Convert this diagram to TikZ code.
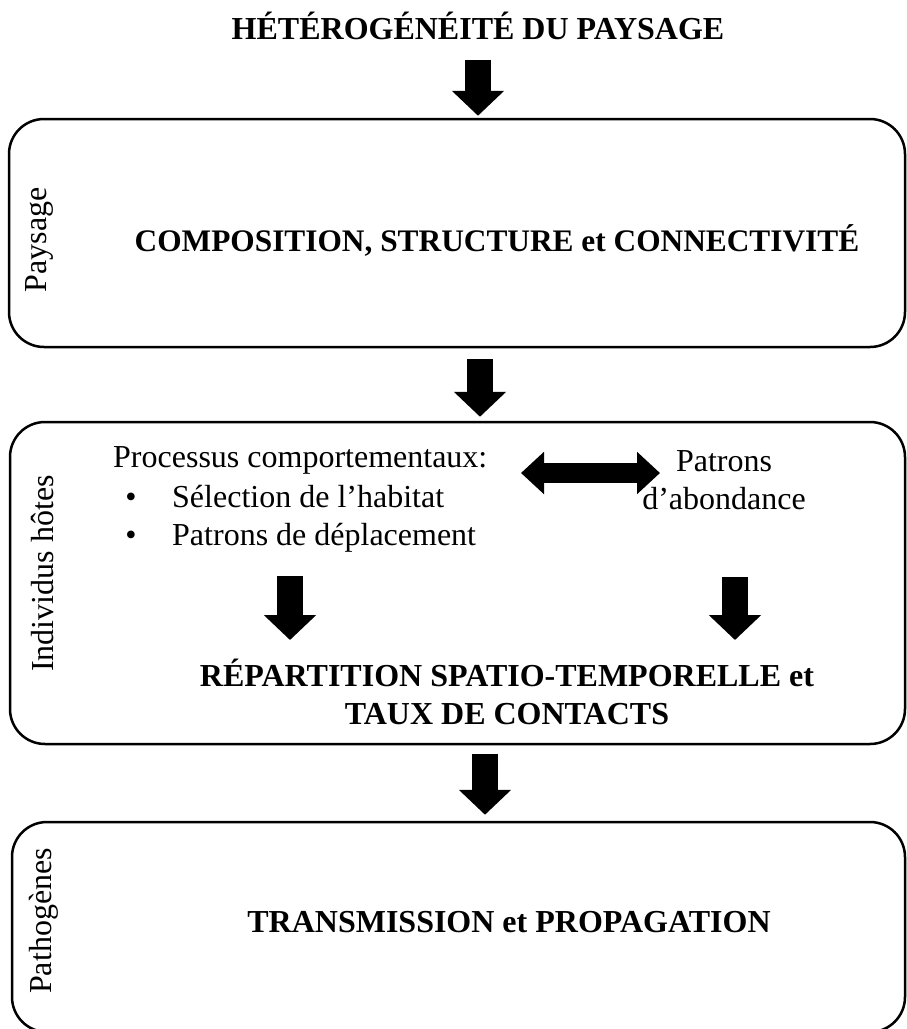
\documentclass[tikz,border=0pt]{standalone}
\usepackage{fontspec}
\setmainfont{Liberation Serif}
\usetikzlibrary{arrows.meta}

\begin{document}
\begin{tikzpicture}[x=1pt,y=-1pt,
  every node/.style={inner sep=0pt, font=\fontsize{32}{38}\selectfont},
  bold/.style={font=\fontsize{32}{38}\selectfont\bfseries},
  bloc/.style={draw, line width=2.5pt, rounded corners=35pt},
  bigarrow/.style={line width=26pt, -{Triangle[width=51pt,length=25pt]}},
  dblarrow/.style={line width=20pt, {Triangle[width=41pt,length=23pt]}-{Triangle[width=41pt,length=23pt]}}]
\useasboundingbox (0,0) rectangle (906,1029);
% blocs
\node [bloc, minimum width=896pt, minimum height=228pt] (paysage) at (457,233) {};
\node [bloc, minimum width=895pt, minimum height=322pt] (hotes) at (457.5,583) {};
\node [bloc, minimum width=893pt, minimum height=210pt] (patho) at (458.5,927) {};
% titres lateraux
\node [rotate=90] (lpaysage) at (39.5,240) {Paysage};
\node [rotate=90] (lhotes) at (43,573.5) {Individus hôtes};
\node [rotate=90] (lpatho) at (44,921) {Pathogènes};
% textes
\node [bold, anchor=base] (titre) at (478,39) {HÉTÉROGÉNÉITÉ DU PAYSAGE};
\node [font=\fontsize{31.35}{38}\selectfont\bfseries, anchor=base] (compo) at (497,251) {COMPOSITION, STRUCTURE et CONNECTIVITÉ};
\node [anchor=base west] (proc) at (113,467) {Processus comportementaux:};
\node [anchor=base] (puce1) at (131,507) {•};
\node [anchor=base west] (selec) at (172,507) {Sélection de l’habitat};
\node [anchor=base] (puce2) at (131,545) {•};
\node [anchor=base west] (depl) at (172,545) {Patrons de déplacement};
\node [align=center] (abond) at (724,480) {Patrons\\d’abondance};
\node [bold, align=center] (repart) at (507,692) {RÉPARTITION SPATIO-TEMPORELLE et\\TAUX DE CONTACTS};
\node [bold, anchor=base] (transm) at (509,932) {TRANSMISSION et PROPAGATION};
% fleches
\coordinate (x2) at (480,0);
\coordinate (x3) at (485,0);
\coordinate (g1) at (290,576);
\coordinate (g2) at (290,640);
\coordinate (d1) at (735,577);
\coordinate (d2) at (735,640);
\coordinate (h1) at (521,473);
\coordinate (h2) at (660,473);
\draw [bigarrow, shorten <=20pt, shorten >=2pt] (titre.south) -- (titre.south |- paysage.north);
\draw [bigarrow, shorten <=11pt, shorten >=4pt] (paysage.south -| x2) -- (hotes.north -| x2);
\draw [bigarrow, shorten <=9pt, shorten >=6pt] (hotes.south -| x3) -- (patho.north -| x3);
\draw [bigarrow] (g1) -- (g2);
\draw [bigarrow] (d1) -- (d2);
\draw [dblarrow] (h1) -- (h2);
\end{tikzpicture}
\end{document}
